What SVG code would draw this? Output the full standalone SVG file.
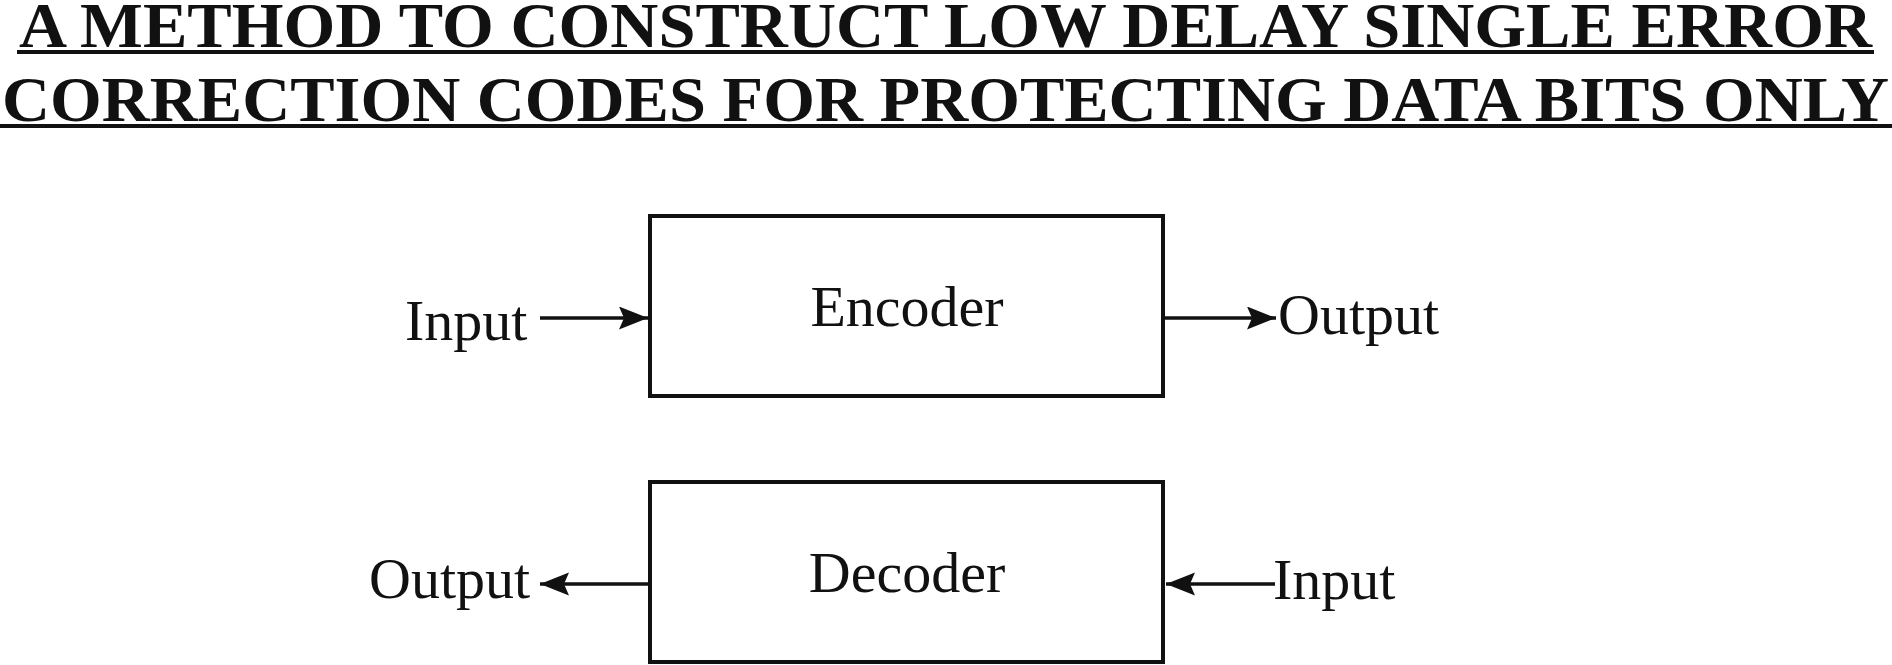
<svg xmlns="http://www.w3.org/2000/svg" width="1892" height="665" viewBox="0 0 1892 665">
<style>
.title{font-family:"Liberation Serif","Times New Roman",serif;font-weight:bold;font-size:64px;fill:#111;}
.lbl{font-family:"Liberation Serif","Times New Roman",serif;font-size:58px;fill:#111;}
.box{fill:#fff;stroke:#111;stroke-width:4;}
.ul{stroke:#111;stroke-width:4;}
.conn{stroke:#111;stroke-width:3.5;fill:none;}
</style>
<defs>
<marker id="ah" markerUnits="userSpaceOnUse" markerWidth="32" markerHeight="26" refX="29" refY="11.5" orient="auto">
<path d="M0,0 L29,11.5 L0,23 L5,11.5 Z" fill="#111"/>
</marker>
</defs>
<rect width="1892" height="665" fill="#fff"/>
<g id="title">
<text class="title" x="19" y="47" textLength="1853" lengthAdjust="spacingAndGlyphs">A METHOD TO CONSTRUCT LOW DELAY SINGLE ERROR</text>
<line class="ul" x1="17" y1="52" x2="1874" y2="52"/>
<text class="title" x="2" y="121" textLength="1887" lengthAdjust="spacingAndGlyphs">CORRECTION CODES FOR PROTECTING DATA BITS ONLY</text>
<line class="ul" x1="0" y1="126" x2="1892" y2="126"/>
</g>
<g id="encoder">
<rect class="box" x="650" y="216" width="513" height="180"/>
<text class="lbl" x="907" y="326" text-anchor="middle">Encoder</text>
</g>
<g id="decoder">
<rect class="box" x="650" y="482" width="513" height="180"/>
<text class="lbl" x="907" y="592" text-anchor="middle">Decoder</text>
</g>
<g id="enc-input"><text class="lbl" x="405" y="340">Input</text></g>
<g id="enc-output"><text class="lbl" x="1278" y="334">Output</text></g>
<g id="dec-output"><text class="lbl" x="369" y="598">Output</text></g>
<g id="dec-input"><text class="lbl" x="1273" y="599">Input</text></g>
<g id="connectors">
<line class="conn" x1="540" y1="318" x2="648" y2="318" marker-end="url(#ah)"/>
<line class="conn" x1="1165" y1="318" x2="1276" y2="318" marker-end="url(#ah)"/>
<line class="conn" x1="648" y1="584" x2="540" y2="584" marker-end="url(#ah)"/>
<line class="conn" x1="1275" y1="584" x2="1166" y2="584" marker-end="url(#ah)"/>
</g>
</svg>
